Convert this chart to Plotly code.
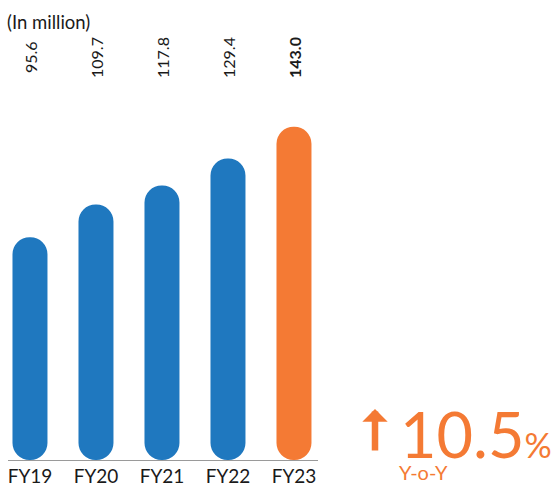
import plotly.graph_objects as go

# data
years = ["FY19", "FY20", "FY21", "FY22", "FY23"]
values = [95.6, 109.7, 117.8, 129.4, 143.0]
value_labels = ["95.6", "109.7", "117.8", "129.4", "<b>143.0</b>"]
growth = "10.5"
growth_note = "Y-o-Y"
unit_note = "(In million)"

BLUE = "#1F78BF"
ORANGE = "#F47A34"
TEXT = "#1a1a1a"
FONT = "Lato"

W, H = 560, 483
L, R, T, B = 8, 242, 0, 23
PW, PH = W - L - R, H - T - B
X_RANGE = [-0.333, 4.364]
SCALE = 2.33          # px per unit on the y axis
BAR_W = 0.53          # in category units


def px_x(p):
    # pixel -> paper x
    return (p - L) / PW


def px_y(p):
    # pixel -> paper y
    return 1 - (p - T) / PH


colors = [BLUE] * (len(years) - 1) + [ORANGE]

fig = go.Figure()
# an explicit base makes plotly round both ends of the bar
fig.add_trace(go.Bar(x=years, y=values, base=[0] * len(values),
                     width=BAR_W, hoverinfo="skip",
                     marker=dict(color=colors, cornerradius="50%", line_width=0)))

annotations = []
for i, lab in enumerate(value_labels):
    annotations.append(dict(x=years[i], xref="x", y=px_y(57), yref="paper",
                            text=lab, textangle=-90, showarrow=False,
                            xanchor="center", yanchor="middle",
                            font=dict(family=FONT, size=16, color=TEXT)))

annotations.append(dict(x=px_x(5), y=px_y(22), xref="paper", yref="paper",
                        text=unit_note, showarrow=False, xanchor="left",
                        yanchor="middle", font=dict(family=FONT, size=18.5, color=TEXT)))

# growth figure
annotations.append(dict(x=px_x(398), y=px_y(433), xref="paper", yref="paper",
                        text=growth + "<span style='font-size:34px'>%</span>",
                        showarrow=False, xanchor="left", yanchor="middle",
                        font=dict(family=FONT, size=63, color=ORANGE)))
annotations.append(dict(x=px_x(423), y=px_y(472), xref="paper", yref="paper",
                        text=growth_note, showarrow=False, xanchor="center",
                        yanchor="middle", font=dict(family=FONT, size=20, color=ORANGE)))
annotations.append(dict(x=px_x(375), y=px_y(409), xref="paper", yref="paper",
                        text="", showarrow=True, ax=0, ay=43, axref="pixel",
                        arrowhead=1, arrowsize=0.65, arrowwidth=6.5,
                        arrowcolor=ORANGE, standoff=0))

fig.update_layout(
    width=W, height=H,
    margin=dict(l=L, r=R, t=T, b=B),
    barmode="overlay",
    showlegend=False,
    plot_bgcolor="white", paper_bgcolor="white",
    font=dict(family=FONT, color=TEXT),
    annotations=annotations,
)
fig.update_xaxes(type="category", range=X_RANGE, showline=True, automargin=False,
                 linecolor="#9a9a9a", linewidth=1, ticks="", showgrid=False,
                 ticklabelstandoff=-1,
                 tickfont=dict(family=FONT, size=19, color=TEXT))
fig.update_yaxes(range=[0, PH / SCALE], visible=False, showgrid=False,
                 zeroline=False, automargin=False)

fig.write_html("out.html", config={"displayModeBar": False},
               post_script="document.body.style.margin='0';")
